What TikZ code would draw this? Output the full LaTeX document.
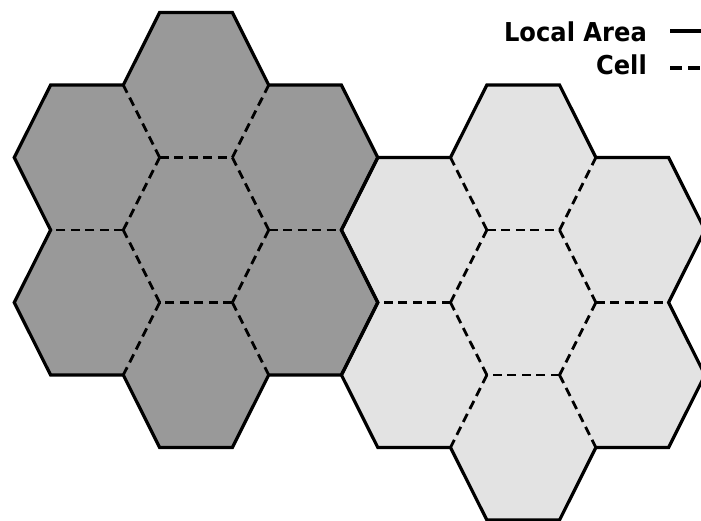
\documentclass[tikz,border=0pt]{standalone}
\usepackage{fontspec}
\newfontfamily\legendfont{DejaVu Sans}
\definecolor{darkhex}{RGB}{153,153,153}
\definecolor{lighthex}{RGB}{227,227,227}
\begin{document}
\begin{tikzpicture}[x=1pt,y=-1pt,
  outline/.style={line width=3.2pt, line join=miter, draw=black},
  celledge/.style={line width=2.8pt, dash pattern=on 9pt off 5.5pt, draw=black},
  legendtext/.style={font={\legendfont\bfseries\fontsize{26pt}{26pt}\selectfont}, inner sep=0pt, xscale=0.93},
  legendsolid/.style={line width=4.5pt, draw=black},
  legenddash/.style={line width=4.5pt, draw=black, dash pattern=on 12pt off 6pt}]
\useasboundingbox (0,0) rectangle (701,520);
\clip (0,0) rectangle (701,520);
\def\R{72.7}\def\H{72.5}
% coordinates and fills
\foreach \cl/\cx/\cy/\fc in {L/196/230/darkhex, Q/523.2/302.5/lighthex}{
  \foreach \j in {0,...,6}{
    \ifnum\j=0 \def\ox{0}\def\oy{0}\else
      \pgfmathsetmacro\ox{1.7320508*\R*cos(60*\j-30)}%
      \pgfmathsetmacro\oy{2*\H*sin(60*\j-30)}%
    \fi
    \foreach \k in {0,...,7}{
      \coordinate (\cl\j v\k) at ({\cx+\ox+\R*cos(60*\k)},{\cy+\oy+\H/0.8660254*sin(60*\k)});
    }
  }
  \foreach \k in {0,...,5}{
    \coordinate (\cl w\k) at ({\cx+2*\R*cos(60*\k)},{\cy+2*\H/0.8660254*sin(60*\k)});
  }
  \fill[\fc] (\cl1v0) -- (\cl1v1) -- (\cl1v2) -- (\cl2v1) -- (\cl2v2) -- (\cl2v3)
    -- (\cl3v2) -- (\cl3v3) -- (\cl3v4) -- (\cl4v3) -- (\cl4v4) -- (\cl4v5)
    -- (\cl5v4) -- (\cl5v5) -- (\cl5v6) -- (\cl6v5) -- (\cl6v6) -- (\cl6v7) -- cycle;
}
% cell boundaries (dashed)
\foreach \cl in {L,Q}{
  \foreach \k [evaluate=\k as \kk using int(\k+1)] in {0,...,5}{
    \draw[celledge] (\cl0v\k) -- (\cl0v\kk);
    \draw[celledge] (\cl0v\k) -- (\cl w\k);
  }
}
% local area outlines (solid)
\foreach \cl in {L,Q}{
  \draw[outline] (\cl1v0) -- (\cl1v1) -- (\cl1v2) -- (\cl2v1) -- (\cl2v2) -- (\cl2v3)
    -- (\cl3v2) -- (\cl3v3) -- (\cl3v4) -- (\cl4v3) -- (\cl4v4) -- (\cl4v5)
    -- (\cl5v4) -- (\cl5v5) -- (\cl5v6) -- (\cl6v5) -- (\cl6v6) -- (\cl6v7) -- cycle;
}
% legend
\node[legendtext, anchor=base east] (lalabel) at (647,41) {Local Area};
\node[legendtext, anchor=base east] (celllabel) at (647,74) {Cell};
\coordinate (las) at (670,31);
\coordinate (lae) at (705,31);
\coordinate (ces) at (670,68);
\coordinate (cee) at (705,68);
\draw[legendsolid] (las) -- (lae);
\draw[legenddash] (ces) -- (cee);
\end{tikzpicture}
\end{document}
